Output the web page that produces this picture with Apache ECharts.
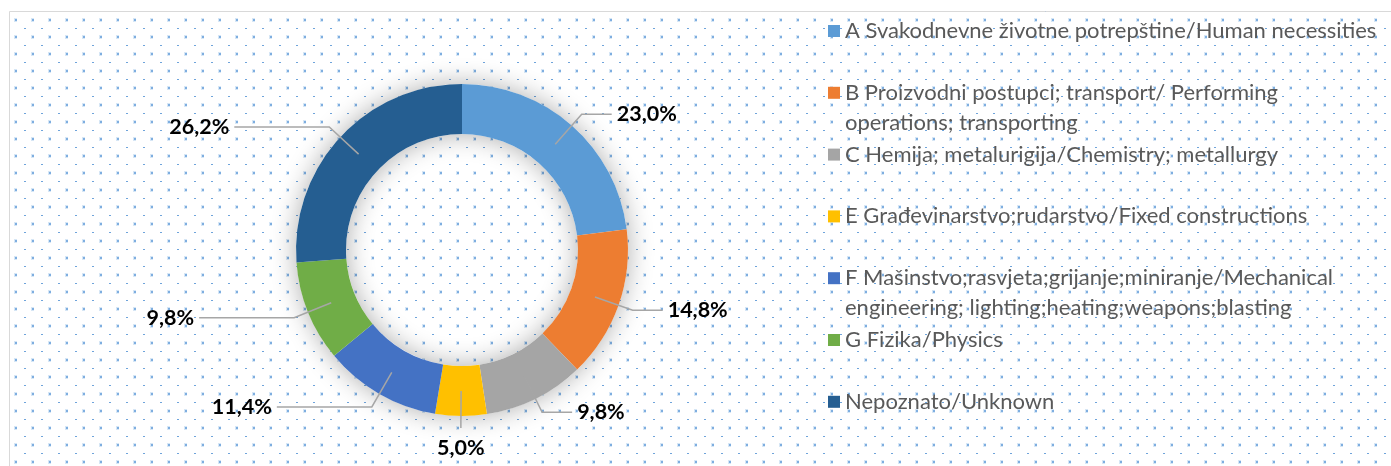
<!DOCTYPE html>
<html>
<head>
<meta charset="utf-8">
<script src="https://cdn.jsdelivr.net/npm/echarts@6/dist/echarts.min.js"></script>
<style>
    html, body { margin: 0; padding: 0; background: #fff; }
    #grafico { width: 1391px; height: 466px; }
</style>
</head>
<body>
<div id="grafico"></div>
<script>
var categorias = [
    'A Svakodnevne životne potrepštine/Human necessities',
    'B Proizvodni postupci; transport/ Performing\noperations; transporting',
    'C Hemija; metalurigija/Chemistry; metallurgy',
    'E Građevinarstvo;rudarstvo/Fixed constructions',
    'F Mašinstvo;rasvjeta;grijanje;miniranje/Mechanical\nengineering; lighting;heating;weapons;blasting',
    'G Fizika/Physics',
    'Nepoznato/Unknown'
];
var valores = [23.0, 14.8, 9.8, 5.0, 11.4, 9.8, 26.2];
var cores = ['#5b9bd5', '#ed7d31', '#a5a5a5', '#ffc000', '#4472c4', '#70ad47', '#255e91'];

// fundo pontilhado (padrao do Excel)
function criarPadrao() {
    var c = document.createElement('canvas');
    c.width = 17;
    c.height = 17;
    var ctx = c.getContext('2d');
    ctx.fillStyle = '#ffffff';
    ctx.fillRect(0, 0, 17, 17);
    ctx.fillStyle = '#d6e6f5';
    ctx.fillRect(14, 1, 4, 4);
    ctx.fillStyle = '#7eaee0';
    ctx.fillRect(15, 2, 2, 2);
    ctx.fillStyle = '#6fa4db';
    ctx.fillRect(7, 11, 2, 1);
    return c;
}

var fonte = 'Lato';
var centro = [462, 250];
var raio = [116, 166];

var dados = valores.map(function (v, i) {
    return { name: categorias[i], value: v, itemStyle: { color: cores[i] } };
});
var dadosRotulo = valores.map(function (v, i) {
    return { name: categorias[i], value: v };
});
var total = valores.reduce(function (s, v) { return s + v; }, 0);

// uma legenda por item; linha vazia antes pra o quadrado ficar na primeira linha
var legendas = categorias.map(function (nome, i) {
    var duasLinhas = nome.indexOf('\n') >= 0;
    var meio = 31 + i * 61.8;
    return {
        orient: 'vertical',
        left: 828,
        top: duasLinhas ? meio - 45 : meio - 15,
        padding: 0,
        itemWidth: 12,
        itemHeight: 12,
        icon: 'rect',
        selectedMode: false,
        data: [nome],
        formatter: function (n) {
            return n.indexOf('\n') >= 0 ? '\n' + n : n;
        },
        textStyle: {
            fontFamily: fonte,
            fontSize: 22,
            color: '#595959',
            lineHeight: 30
        }
    };
});

// ajusta os rotulos: lado esquerdo mais afastado, o de baixo centralizado
function posicionarRotulo(p) {
    var pts = p.labelLinePoints;
    if (!pts) return {};
    var a = pts[0], b = pts[1];
    if (Math.abs(b[0] - a[0]) < 6 && b[1] > a[1]) {
        return {
            x: b[0], y: b[1] + 6, align: 'center', verticalAlign: 'top',
            labelLinePoints: [a, [b[0], b[1] - 3]]
        };
    }
    var esq = b[0] < a[0];
    var c = [b[0] + (esq ? -95 : 30), b[1]];
    return {
        x: c[0] + (esq ? -5 : 5), y: c[1], align: esq ? 'right' : 'left', verticalAlign: 'middle',
        labelLinePoints: [a, b, c]
    };
}

var chart = echarts.init(document.getElementById('grafico'));
chart.setOption({
    animation: false,
    backgroundColor: { image: criarPadrao(), repeat: 'repeat' },
    graphic: [{
        // margem branca em cima e a esquerda + borda da area do grafico
        type: 'rect', z: 100,
        shape: { x: 0, y: 0, width: 1391, height: 11 },
        style: { fill: '#ffffff' }
    }, {
        type: 'rect', z: 100,
        shape: { x: 0, y: 0, width: 9, height: 466 },
        style: { fill: '#ffffff' }
    }, {
        type: 'polyline', z: 100,
        shape: { points: [[9.5, 466], [9.5, 11.5], [1391, 11.5]] },
        style: { fill: null, stroke: '#d9d9d9', lineWidth: 1 }
    }],
    legend: legendas,
    series: [{
        type: 'pie',
        center: centro,
        radius: raio,
        startAngle: 90,
        clockwise: true,
        silent: true,
        z: 3,
        label: { show: false },
        labelLine: { show: false },
        data: dados
    }, {
        // sombra suave cinza atras do anel (um setor so)
        type: 'pie',
        center: centro,
        radius: raio,
        silent: true,
        z: 2,
        label: { show: false },
        labelLine: { show: false },
        itemStyle: { color: '#ffffff', shadowBlur: 26, shadowColor: 'rgba(0,0,0,0.32)' },
        data: [{ value: total }]
    }, {
        // serie invisivel so pros rotulos: a linha sai do meio do anel
        type: 'pie',
        center: centro,
        radius: [140, 141],
        startAngle: 90,
        clockwise: true,
        silent: true,
        z: 5,
        avoidLabelOverlap: false,
        itemStyle: { color: 'rgba(0,0,0,0)' },
        label: {
            show: true,
            position: 'outside',
            fontFamily: fonte,
            fontWeight: 'bold',
            fontSize: 21.5,
            color: '#000',
            formatter: function (p) {
                return p.value.toFixed(1).replace('.', ',') + '%';
            }
        },
        labelLine: {
            show: true,
            length: 40,
            length2: 30,
            lineStyle: { color: '#a6a6a6', width: 1.5 }
        },
        labelLayout: posicionarRotulo,
        data: dadosRotulo
    }]
});
</script>
</body>
</html>
